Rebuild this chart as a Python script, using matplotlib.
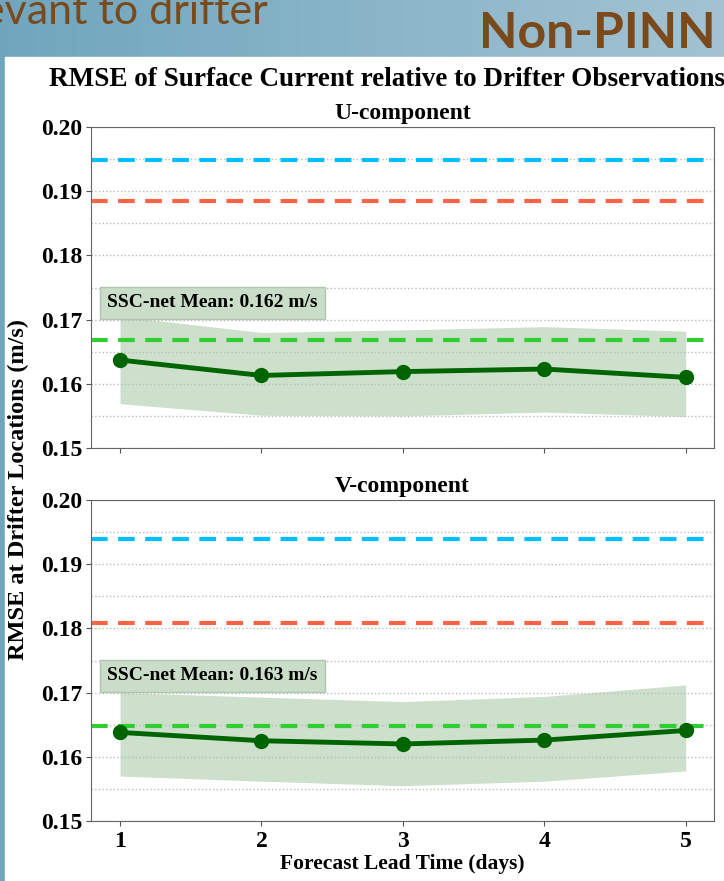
import numpy as np
import matplotlib.pyplot as plt
from matplotlib.patches import Rectangle
from matplotlib.ticker import MultipleLocator

# forecast lead times and SSC-net RMSE (mean, band)
days = [1, 2, 3, 4, 5]
u_rmse = [0.1637, 0.1613, 0.1619, 0.1623, 0.1610]
u_upper = [0.1705, 0.1680, 0.1684, 0.1689, 0.1682]
u_lower = [0.1569, 0.1551, 0.1550, 0.1556, 0.1549]
v_rmse = [0.1638, 0.1625, 0.1620, 0.1626, 0.1641]
v_upper = [0.1700, 0.1693, 0.1686, 0.1694, 0.1712]
v_lower = [0.1570, 0.1562, 0.1555, 0.1562, 0.1578]

# reference lines: blue, red, green (SSC-net mean)
u_refs = [0.1949, 0.1884, 0.1668]
v_refs = [0.1939, 0.1809, 0.1648]
u_mean_label = 'SSC-net Mean: 0.162 m/s'
v_mean_label = 'SSC-net Mean: 0.163 m/s'

serif = ['Liberation Serif', 'DejaVu Serif']
W, H = 724, 881
fig = plt.figure(figsize=(W / 100, H / 100), dpi=100)

# slide background with gradient
bg = fig.add_axes([0, 0, 1, 1], zorder=-10)
grad = np.linspace(0, 1, 256).reshape(1, -1)
c0 = np.array([0x6f, 0xa6, 0xbe]) / 255
c1 = np.array([0xa3, 0xc3, 0xd3]) / 255
img = c0[None, None, :] * (1 - grad[..., None]) + c1[None, None, :] * grad[..., None]
bg.imshow(img, aspect='auto', extent=[0, 1, 0, 1])
bg.add_patch(Rectangle((5 / W, 0), 1, 1 - 57 / H, color='white', transform=bg.transAxes))
bg.set_xlim(0, 1)
bg.set_ylim(0, 1)
bg.axis('off')

fig.text(268 / W, 1 - 24 / H, 'evant to drifter', fontsize=31, family='Lato',
         color='#7a4a1c', ha='right', va='baseline')
fig.text(716 / W, 1 - 48 / H, 'Non-PINN', fontsize=36, family='Lato', fontweight='bold',
         color='#7a4a1c', ha='right', va='baseline')

fig.text(387 / W, 1 - 79 / H, 'RMSE of Surface Current relative to Drifter Observations',
         fontsize=19.5, family=serif, fontweight='bold', ha='center', va='center')


def panel(ax, rmse, upper, lower, refs, label, title):
    ax.fill_between(days, lower, upper, color='darkgreen', alpha=0.2, lw=0)
    for yv, c in zip(refs, ['#00bfff', '#ff6347', '#32cd32']):
        ax.axhline(yv, color=c, ls=(0, (4, 2.5)), lw=3)
    ax.plot(days, rmse, color='darkgreen', lw=3.5, marker='o', ms=10)
    ax.set_xlim(0.795, 5.2)
    ax.set_ylim(0.15, 0.20)
    ax.yaxis.set_major_locator(MultipleLocator(0.01))
    ax.yaxis.set_minor_locator(MultipleLocator(0.005))
    ax.grid(True, which='both', axis='y', ls=':', color='#bbbbbb', lw=1)
    ax.set_xticks(days)
    ax.tick_params(axis='y', which='minor', length=0)
    ax.tick_params(labelsize=17, color='#555555')
    ax.tick_params(axis='y', pad=2.5)
    for t in ax.get_xticklabels() + ax.get_yticklabels():
        t.set_fontfamily(serif)
        t.set_fontweight('bold')
    ax.yaxis.set_major_formatter(plt.FormatStrFormatter('%.2f'))
    for s in ax.spines.values():
        s.set_color('#666666')
    ax.set_title(title, fontsize=17, family=serif, fontweight='bold', pad=6)
    ax.text(0.026, 0.1713, label, transform=ax.get_yaxis_transform(),
            fontsize=14, family=serif, fontweight='bold', ha='left', va='bottom',
            bbox=dict(boxstyle='square,pad=0.38', facecolor='#c9ddc9', edgecolor='#b0c4b0'))


ax1 = fig.add_axes([91 / W, 1 - 448 / H, 623 / W, 321 / H])
ax2 = fig.add_axes([91 / W, 1 - 821 / H, 623 / W, 321 / H])
panel(ax1, u_rmse, u_upper, u_lower, u_refs, u_mean_label, 'U-component')
panel(ax2, v_rmse, v_upper, v_lower, v_refs, v_mean_label, 'V-component')
ax1.set_xticklabels([])
ax2.set_xlabel('Forecast Lead Time (days)', fontsize=15.5, family=serif, fontweight='bold', labelpad=2)
fig.text(18 / W, 1 - 490 / H, 'RMSE at Drifter Locations (m/s)', rotation=90,
         fontsize=17.5, family=serif, fontweight='bold', ha='center', va='center')

plt.savefig('out.png', dpi=100)
